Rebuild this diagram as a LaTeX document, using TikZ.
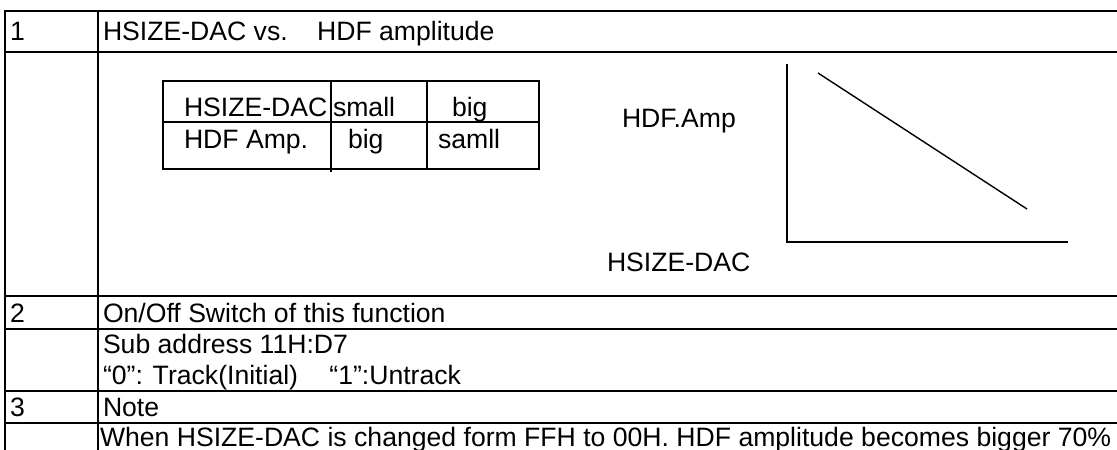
\documentclass[tikz,border=0pt]{standalone}
\usepackage{fontspec}
\setmainfont{Liberation Sans}
\begin{document}
\begin{tikzpicture}[x=1pt,y=-1pt,
  grid/.style={line width=2pt,black},
  thin/.style={line width=1.4pt,black},
  txt/.style={anchor=base west,inner sep=0pt,outer sep=0pt,font=\fontsize{26.6}{31}\selectfont},
  ]
\useasboundingbox (0,0) rectangle (1117,450);
% outer table
\draw[grid] (5,450) -- (5,11) -- (1117,11);
\draw[grid] (98,11) -- (98,450);
\foreach \y in {52,296,329,391,423} \draw[grid] (5,\y) -- (1117,\y);
% row texts
\node[txt] (n1) at (10,40) {1};
\node[txt] (t1) at (103,40) {HSIZE-DAC vs.\hspace*{22pt} HDF amplitude};
\node[txt] (n2) at (10,322) {2};
\node[txt] (t2) at (103,322) {On/Off Switch of this function};
\node[txt] (t2a) at (103,353) {Sub address 11H:D7};
\node[txt] (t2b) at (103,384) {“0”: Track(Initial)\hspace*{24pt} “1”:Untrack};
\node[txt] (n3) at (10,416) {3};
\node[txt] (t3) at (103,416) {Note};
\node[txt] (t3a) at (100,446) {When HSIZE-DAC is changed form FFH to 00H. HDF amplitude becomes bigger 70\%};
% inner table
\draw[thin] (163,81) rectangle (539,169);
\draw[thin] (163,122) -- (539,122);
\draw[thin] (331,81) -- (331,172);
\draw[thin] (427,81) -- (427,169);
\node[txt] (a1) at (184,116) {HSIZE-DAC};
\node[txt] (a2) at (333,116) {small};
\node[txt] (a3) at (452,116) {big};
\node[txt] (b1) at (184,148) {HDF Amp.};
\node[txt] (b2) at (348,148) {big};
\node[txt] (b3) at (438,148) {samll};
% graph
\coordinate (ytop) at (787,64);
\coordinate (orig) at (787,242);
\coordinate (xend) at (1068,242);
\coordinate (d1) at (818,73);
\coordinate (d2) at (1027,209);
\draw[thin] (ytop) -- (orig) -- (xend);
\draw[thin] (d1) -- (d2);
\node[txt] (ylab) at (622,127) {HDF.Amp};
\node[txt] (xlab) at (607,271) {HSIZE-DAC};
\end{tikzpicture}
\end{document}
